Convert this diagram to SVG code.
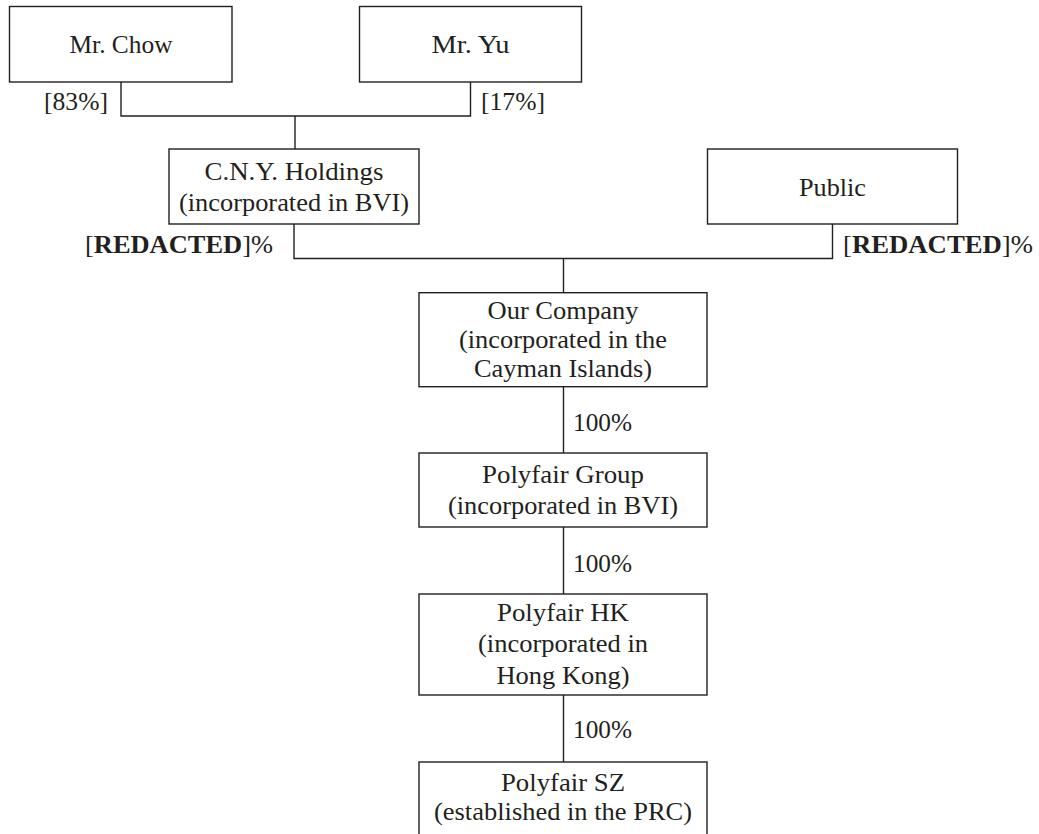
<svg xmlns="http://www.w3.org/2000/svg" width="1039" height="834" viewBox="0 0 1039 834">
<style>
.box{fill:#fff;stroke:#231f20;stroke-width:1.4}
.ln{fill:none;stroke:#231f20;stroke-width:1.4}
text{font-family:"Liberation Serif","Times New Roman",serif;font-size:26px;fill:#231f20}
.c{text-anchor:middle}
.b{font-weight:bold}
</style>
<rect width="1039" height="834" fill="#fff"/>
<g id="connectors">
<polyline class="ln" points="121,82 121,116 470.5,116 470.5,82"/>
<line class="ln" x1="295" y1="116" x2="295" y2="149"/>
<polyline class="ln" points="294,224 294,258.5 832.5,258.5 832.5,224"/>
<line class="ln" x1="563.5" y1="258.5" x2="563.5" y2="292.7"/>
<line class="ln" x1="563.5" y1="386.7" x2="563.5" y2="453"/>
<line class="ln" x1="563.5" y1="527" x2="563.5" y2="594"/>
<line class="ln" x1="563.5" y1="695" x2="563.5" y2="762"/>
<text x="44" y="110" textLength="64" lengthAdjust="spacingAndGlyphs">[83%]</text>
<text x="481" y="110" textLength="64" lengthAdjust="spacingAndGlyphs">[17%]</text>
<text x="85" y="253" textLength="188" lengthAdjust="spacingAndGlyphs">[<tspan class="b">REDACTED</tspan>]%</text>
<text x="843" y="253" textLength="190" lengthAdjust="spacingAndGlyphs">[<tspan class="b">REDACTED</tspan>]%</text>
<text x="573" y="431" textLength="59" lengthAdjust="spacingAndGlyphs">100%</text>
<text x="573" y="572" textLength="59" lengthAdjust="spacingAndGlyphs">100%</text>
<text x="573" y="738" textLength="59" lengthAdjust="spacingAndGlyphs">100%</text>
</g>
<g id="chow">
<rect class="box" x="9.5" y="6.5" width="222.5" height="75.5"/>
<text class="c" x="121" y="53" textLength="103" lengthAdjust="spacingAndGlyphs">Mr. Chow</text>
</g>
<g id="yu">
<rect class="box" x="359.5" y="6.5" width="222" height="75.5"/>
<text class="c" x="470.5" y="53" textLength="78" lengthAdjust="spacingAndGlyphs">Mr. Yu</text>
</g>
<g id="cny">
<rect class="box" x="169" y="149" width="250" height="75"/>
<text class="c" x="294" y="180" textLength="179" lengthAdjust="spacingAndGlyphs">C.N.Y. Holdings</text>
<text class="c" x="294" y="211" textLength="230" lengthAdjust="spacingAndGlyphs">(incorporated in BVI)</text>
</g>
<g id="public">
<rect class="box" x="707.5" y="149" width="250" height="75"/>
<text class="c" x="832.5" y="196" textLength="67" lengthAdjust="spacingAndGlyphs">Public</text>
</g>
<g id="company">
<rect class="box" x="419" y="292.7" width="288" height="94"/>
<text class="c" x="563" y="319" textLength="151" lengthAdjust="spacingAndGlyphs">Our Company</text>
<text class="c" x="563" y="348" textLength="208" lengthAdjust="spacingAndGlyphs">(incorporated in the</text>
<text class="c" x="563" y="377" textLength="178" lengthAdjust="spacingAndGlyphs">Cayman Islands)</text>
</g>
<g id="polyfair-group">
<rect class="box" x="419" y="453" width="288" height="74"/>
<text class="c" x="563" y="483" textLength="162" lengthAdjust="spacingAndGlyphs">Polyfair Group</text>
<text class="c" x="563" y="514" textLength="230" lengthAdjust="spacingAndGlyphs">(incorporated in BVI)</text>
</g>
<g id="polyfair-hk">
<rect class="box" x="419" y="594" width="288" height="101"/>
<text class="c" x="563" y="621" textLength="132" lengthAdjust="spacingAndGlyphs">Polyfair HK</text>
<text class="c" x="563" y="652" textLength="170" lengthAdjust="spacingAndGlyphs">(incorporated in</text>
<text class="c" x="563" y="684" textLength="133" lengthAdjust="spacingAndGlyphs">Hong Kong)</text>
</g>
<g id="polyfair-sz">
<rect class="box" x="419" y="762" width="288" height="90"/>
<text class="c" x="563" y="791" textLength="124" lengthAdjust="spacingAndGlyphs">Polyfair SZ</text>
<text class="c" x="563" y="820" textLength="258" lengthAdjust="spacingAndGlyphs">(established in the PRC)</text>
</g>
</svg>
